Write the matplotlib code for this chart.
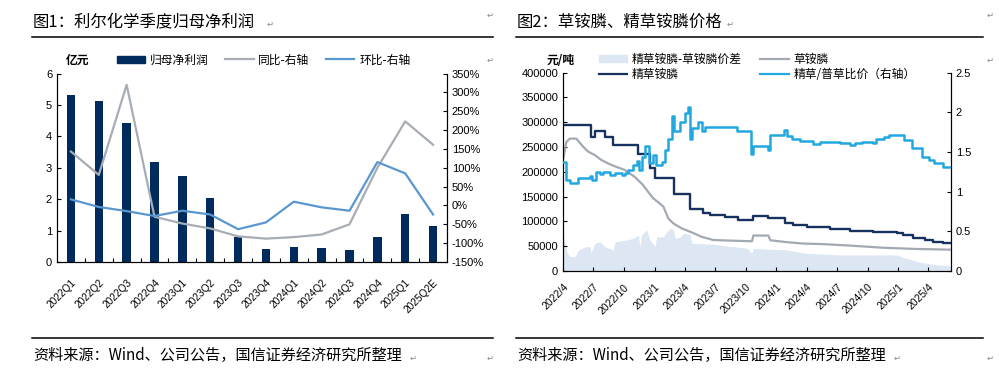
import matplotlib
matplotlib.use("Agg")
import matplotlib.pyplot as plt
from matplotlib.lines import Line2D
from matplotlib.patches import Patch
import pandas as pd

plt.rcParams["font.family"] = ["Liberation Sans", "Noto Sans CJK SC", "DejaVu Sans"]
plt.rcParams["axes.unicode_minus"] = False

# ---- figure 1 data ----
quarters = ["2022Q1", "2022Q2", "2022Q3", "2022Q4", "2023Q1", "2023Q2", "2023Q3",
            "2023Q4", "2024Q1", "2024Q2", "2024Q3", "2024Q4", "2025Q1", "2025Q2E"]
net_profit = [5.32, 5.11, 4.44, 3.19, 2.74, 2.04, 0.79, 0.42, 0.48, 0.45, 0.39, 0.81, 1.52, 1.16]
yoy = [143, 81, 320, -30, -48, -61, -82, -88, -84, -77, -50, 100, 223, 161]
qoq = [16, -4, -15, -28, -14, -24, -63, -45, 10, -5, -14, 115, 85, -24]

# ---- figure 2 data ----
fine_dates = ["2022-04-01", "2022-06-23", "2022-07-06", "2022-08-05", "2022-08-29", "2022-11-12",
              "2022-12-18", "2023-01-02", "2023-03-01", "2023-04-18", "2023-05-27", "2023-06-16",
              "2023-07-31", "2023-09-08", "2023-10-23", "2023-12-08", "2024-01-27", "2024-02-20",
              "2024-04-01", "2024-06-10", "2024-08-09", "2024-10-18", "2024-12-27", "2025-01-16",
              "2025-02-15", "2025-03-22", "2025-04-16", "2025-05-16", "2025-06-08"]
fine_price = [295000, 270000, 282000, 270000, 255000, 235000, 207000, 187000, 156000, 125000,
              116000, 112000, 108000, 103000, 111000, 106000, 97500, 93000, 89500, 85000,
              81500, 79500, 77500, 72500, 66000, 62500, 59000, 57000, 57000]

base_dates = ["2022-04-01", "2022-04-11", "2022-04-21", "2022-05-11", "2022-05-31", "2022-06-15",
              "2022-07-05", "2022-07-25", "2022-08-14", "2022-09-08", "2022-10-03", "2022-11-02",
              "2022-11-27", "2022-12-12", "2022-12-27", "2023-01-11", "2023-01-27", "2023-02-11",
              "2023-02-26", "2023-03-23", "2023-04-22", "2023-05-22", "2023-06-26", "2023-08-30",
              "2023-10-20", "2023-10-24", "2023-12-08", "2023-12-14", "2024-01-28", "2024-03-18",
              "2024-05-27", "2024-08-15", "2024-11-14", "2025-02-22", "2025-06-08"]
base_price = [224000, 260000, 267000, 267000, 251000, 241000, 234000, 224000, 217000, 210000,
              204000, 190000, 173500, 160000, 147000, 139000, 130000, 106000, 96000, 86000,
              78000, 69000, 62500, 61000, 60000, 71500, 71500, 62000, 58500, 55500,
              54000, 51000, 47000, 44500, 43000]

ratio_dates = ["2022-04-01", "2022-04-10", "2022-04-22", "2022-05-16", "2022-06-21", "2022-06-27",
               "2022-07-08", "2022-07-21", "2022-07-30", "2022-08-20", "2022-09-04", "2022-09-24",
               "2022-10-04", "2022-10-14", "2022-10-29", "2022-11-10", "2022-11-16", "2022-11-23",
               "2022-12-03", "2022-12-16", "2022-12-28", "2023-01-04", "2023-01-22", "2023-02-01",
               "2023-02-10", "2023-02-21", "2023-03-01", "2023-03-18", "2023-04-02", "2023-04-12",
               "2023-04-17", "2023-04-22", "2023-05-12", "2023-05-22", "2023-06-01", "2023-09-04",
               "2023-10-18", "2023-10-24", "2023-12-08", "2023-12-13", "2024-01-25", "2024-02-01",
               "2024-02-16", "2024-03-12", "2024-04-21", "2024-05-11", "2024-07-10", "2024-08-09",
               "2024-08-24", "2024-09-14", "2024-10-18", "2024-10-26", "2024-11-19", "2024-12-04",
               "2025-01-18", "2025-02-11", "2025-03-13", "2025-04-03", "2025-04-18", "2025-05-15",
               "2025-06-08"]
ratio = [1.37, 1.15, 1.11, 1.17, 1.20, 1.15, 1.245, 1.225, 1.25, 1.21, 1.23, 1.21,
         1.24, 1.27, 1.34, 1.39, 1.27, 1.44, 1.57, 1.36, 1.46, 1.34, 1.38, 1.53,
         1.67, 1.95, 1.76, 1.88, 1.99, 2.07, 1.67, 1.80, 1.88, 1.76, 1.82, 1.76,
         1.47, 1.58, 1.53, 1.715, 1.78, 1.70, 1.67, 1.64, 1.60, 1.625, 1.61, 1.59,
         1.61, 1.63, 1.61, 1.67, 1.69, 1.715, 1.65, 1.55, 1.44, 1.40, 1.36, 1.31,
         1.31]

spread_dates = ["2022-04-01", "2022-04-07", "2022-04-12", "2022-04-22", "2022-05-07", "2022-05-17",
                "2022-06-06", "2022-06-21", "2022-06-24", "2022-07-06", "2022-07-21", "2022-08-05",
                "2022-08-30", "2022-09-04", "2022-10-09", "2022-10-29", "2022-11-13", "2022-11-18",
                "2022-11-23", "2022-12-08", "2022-12-18", "2023-01-02", "2023-01-07", "2023-01-27",
                "2023-02-06", "2023-02-16", "2023-02-26", "2023-03-03", "2023-03-18", "2023-03-28",
                "2023-04-17", "2023-04-22", "2023-06-25", "2023-08-24", "2023-10-05", "2023-10-19",
                "2023-10-24", "2023-12-18", "2024-01-27", "2024-04-01", "2024-07-10", "2024-12-27",
                "2025-01-16", "2025-03-07", "2025-04-16", "2025-06-08"]
spread = [76000, 59000, 39000, 29000, 29000, 42000, 49000, 49000, 37000, 56000, 59000, 49000,
          42000, 59000, 62500, 66000, 72600, 49000, 72600, 82700, 62500, 49000, 69000, 69000,
          79000, 86000, 84000, 66000, 68000, 76000, 74000, 56000, 54000, 49000, 46000, 35600,
          45700, 43700, 43000, 35600, 32300, 32500, 27000, 18000, 13400, 10100]

x_ticks = ["2022-04-01", "2022-07-01", "2022-10-01", "2023-01-01", "2023-04-01", "2023-07-01",
           "2023-10-01", "2024-01-01", "2024-04-01", "2024-07-01", "2024-10-01", "2025-01-01",
           "2025-04-01"]

W, H = 999, 373
fig = plt.figure(figsize=(W / 100, H / 100), dpi=100)
cjk = ["Noto Sans CJK SC", "DejaVu Sans"]


def fx(px):
    return px / W


def fy(py):
    return 1 - py / H


def hline(x0, x1, y):
    fig.add_artist(Line2D([fx(x0), fx(x1)], [fy(y), fy(y)], color="black", lw=1.1))


def mark(x, y):
    fig.text(fx(x), fy(y), "\u21b5", fontsize=6, color="#888888", family=["DejaVu Sans"],
             ha="left", va="center")


# headers and footers
fig.text(fx(33), fy(22), "图1：利尔化学季度归母净利润", fontsize=11.8, family=cjk, va="center")
fig.text(fx(517), fy(22), "图2：草铵膦、精草铵膦价格", fontsize=11.8, family=cjk, va="center")
hline(32, 493, 37)
hline(516, 983, 37)
hline(32, 493, 338)
hline(516, 983, 338)
src = "资料来源：Wind、公司公告，国信证券经济研究所整理"
fig.text(fx(33), fy(355), src, fontsize=10.9, family=cjk, va="center")
fig.text(fx(517), fy(355), src, fontsize=10.9, family=cjk, va="center")
for (mx, my) in [(267, 24), (727, 24), (487, 15), (987, 15), (987, 60), (487, 60),
                 (410, 358), (894, 358), (487, 358), (987, 358)]:
    mark(mx, my)

# ---------------- panel 1 ----------------
navy = "#002b5c"
grey = "#a7adb5"
blue = "#5b97cf"

ax1 = fig.add_axes([fx(57), fy(262), fx(447) - fx(57), fy(73.5) - fy(262)])
xs = list(range(len(quarters)))
ax1.bar(xs, net_profit, width=0.3, color=navy, zorder=2)
ax1.set_xlim(-0.5, len(quarters) - 0.5)
ax1.set_ylim(0, 6)
ax1.set_yticks(range(0, 7))
ax1.set_xticks(xs)
ax1.set_xticklabels(quarters, rotation=45, ha="right", va="top", rotation_mode="anchor", fontsize=7.3)
ax1.set_xticks([i + 0.5 for i in xs[:-1]], minor=True)
ax1.tick_params(axis="x", which="major", length=0, pad=11)
ax1.tick_params(axis="x", which="minor", direction="in", length=3, width=0.8)
ax1.tick_params(axis="y", direction="in", length=3, labelsize=8, width=0.8)
ax1.spines["top"].set_visible(False)

ax1r = ax1.twinx()
ax1r.plot(xs, yoy, color=grey, lw=1.6, zorder=3)
ax1r.plot(xs, qoq, color=blue, lw=1.6, zorder=3)
ax1r.set_ylim(-150, 350)
ax1r.set_yticks(range(-150, 351, 50))
ax1r.set_yticklabels([f"{v}%" for v in range(-150, 351, 50)])
ax1r.tick_params(axis="y", direction="in", length=3, labelsize=8, width=0.8)
ax1r.spines["top"].set_visible(False)
ax1r.set_xlim(-0.5, len(quarters) - 0.5)

fig.text(fx(66), fy(60), "亿元", fontsize=8.5, family=cjk, fontweight="bold", va="center")
h1 = [Patch(color=navy), Line2D([], [], color=grey, lw=1.6), Line2D([], [], color=blue, lw=1.6)]
ax1.legend(h1, ["归母净利润", "同比-右轴", "环比-右轴"], ncol=3, loc="center",
           bbox_to_anchor=(0.53, 1.072), frameon=False,
           handlelength=2.4, handleheight=0.6, handletextpad=0.4, columnspacing=1.4,
           prop={"family": cjk, "size": 8.5})

# ---------------- panel 2 ----------------
dark = "#17325e"
grey2 = "#a3a9b2"
cyan = "#22a8e0"
fillc = "#dce7f3"

ax2 = fig.add_axes([fx(563), fy(271), fx(951) - fx(563), fy(72.7) - fy(271)])
ax2.fill_between(pd.to_datetime(spread_dates), spread, 0, color=fillc, lw=0, zorder=1)
ax2.plot(pd.to_datetime(base_dates), base_price, color=grey2, lw=1.6, zorder=2)
ax2.plot(pd.to_datetime(fine_dates), fine_price, color=dark, lw=1.7, drawstyle="steps-post", zorder=3)
ax2.set_ylim(0, 400000)
ax2.set_yticks(range(0, 400001, 50000))
ax2.set_xlim(pd.Timestamp("2022-04-01"), pd.Timestamp("2025-06-08"))
ax2.set_xticks(pd.to_datetime(x_ticks))
ax2.set_xticklabels([f"{d[:4]}/{int(d[5:7])}" for d in x_ticks], rotation=45, ha="right",
                    va="top", rotation_mode="anchor", fontsize=7.5)
ax2.tick_params(axis="x", direction="in", length=3, pad=8, width=0.8)
ax2.tick_params(axis="y", direction="in", length=3, labelsize=8, width=0.8)
ax2.spines["top"].set_visible(False)

ax2r = ax2.twinx()
ax2r.plot(pd.to_datetime(ratio_dates), ratio, color=cyan, lw=1.8, drawstyle="steps-post", zorder=4)
ax2r.set_ylim(0, 2.5)
ax2r.set_yticks([0, 0.5, 1, 1.5, 2, 2.5])
ax2r.set_yticklabels(["0", "0.5", "1", "1.5", "2", "2.5"])
ax2r.tick_params(axis="y", direction="in", length=3, labelsize=8, width=0.8)
ax2r.spines["top"].set_visible(False)
ax2r.set_xlim(pd.Timestamp("2022-04-01"), pd.Timestamp("2025-06-08"))

fig.text(fx(547), fy(60), "元/吨", fontsize=8.5, family=cjk, fontweight="bold", va="center")
h2 = [Patch(color=fillc), Line2D([], [], color=dark, lw=1.6),
      Line2D([], [], color=grey2, lw=1.6), Line2D([], [], color=cyan, lw=1.6)]
ax2.legend(h2, ["精草铵膦-草铵膦价差", "精草铵膦", "草铵膦", "精草/普草比价（右轴）"], ncol=2,
           loc="center", bbox_to_anchor=(0.5, 1.03), frameon=False,
           handlelength=2.4, handleheight=0.6, handletextpad=0.4, columnspacing=1.6,
           labelspacing=0.15, prop={"family": cjk, "size": 8.5})

fig.savefig("out.png", dpi=100)
